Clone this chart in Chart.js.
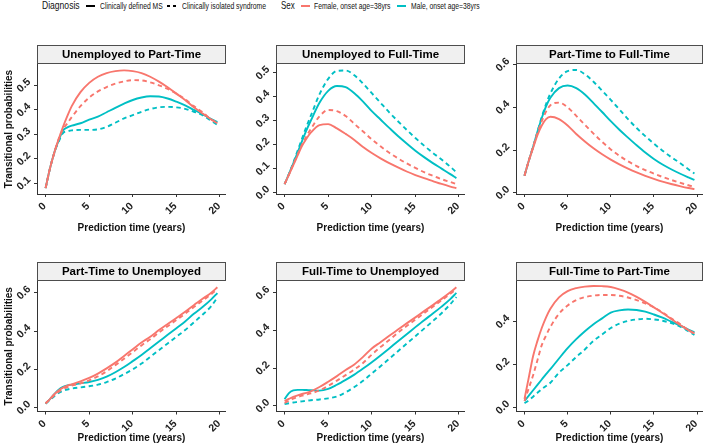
<!DOCTYPE html>
<html>
<head>
<meta charset="utf-8">
<script src="https://cdn.jsdelivr.net/npm/chart.js@4/dist/chart.umd.min.js"></script>
<style>
  html, body { margin:0; padding:0; background:#fff; }
  body { width:709px; height:447px; position:relative; overflow:hidden; font-family:"Liberation Sans", Arial, sans-serif; }
  canvas { position:absolute; }
  .lg { position:absolute; top:0; white-space:nowrap; color:#111; line-height:12px; transform-origin:0 0; }
  .key { position:absolute; height:0; }
</style>
</head>
<body>
<div id="legend"></div>
<canvas id="c1" width="232" height="196" style="left:0;top:40px"></canvas>
<canvas id="c2" width="235" height="196" style="left:236px;top:40px"></canvas>
<canvas id="c3" width="233" height="196" style="left:476px;top:40px"></canvas>
<canvas id="c4" width="232" height="190" style="left:0;top:257px"></canvas>
<canvas id="c5" width="235" height="190" style="left:236px;top:257px"></canvas>
<canvas id="c6" width="233" height="190" style="left:476px;top:257px"></canvas>
<script>
// ---------------- data ----------------
const times = [0,0.5,1,1.5,2,2.5,3,4,5,6,7,8,9,10,11,12,13,14,15,16,17,18,19,19.7];
const xTicks = [0,5,10,15,20];

const panelTitles = ['Unemployed to Part-Time','Unemployed to Full-Time','Part-Time to Full-Time',
                     'Part-Time to Unemployed','Full-Time to Unemployed','Full-Time to Part-Time'];

// Unemployed to Part-Time
const u2pFemaleCDMS = [0.08,0.16,0.225,0.28,0.33,0.375,0.415,0.472,0.51,0.535,0.55,0.558,0.561,0.558,0.55,0.535,0.515,0.492,0.466,0.44,0.41,0.385,0.36,0.345];
const u2pFemaleCIS  = [0.08,0.16,0.225,0.28,0.32,0.345,0.37,0.415,0.45,0.475,0.493,0.507,0.516,0.521,0.52,0.512,0.5,0.485,0.466,0.443,0.415,0.39,0.36,0.345];
const u2pMaleCDMS   = [0.08,0.16,0.225,0.275,0.315,0.328,0.335,0.345,0.36,0.372,0.39,0.408,0.425,0.44,0.45,0.455,0.454,0.446,0.433,0.418,0.4,0.382,0.362,0.35];
const u2pMaleCIS    = [0.08,0.16,0.225,0.27,0.305,0.312,0.316,0.318,0.318,0.32,0.33,0.347,0.365,0.378,0.392,0.403,0.41,0.412,0.41,0.404,0.392,0.378,0.355,0.338];

// Unemployed to Full-Time
const u2fFemaleCDMS = [0.035,0.075,0.115,0.155,0.195,0.225,0.25,0.282,0.286,0.268,0.245,0.22,0.19,0.165,0.143,0.123,0.105,0.088,0.073,0.06,0.048,0.036,0.025,0.018];
const u2fFemaleCIS  = [0.035,0.075,0.118,0.16,0.2,0.235,0.265,0.318,0.345,0.34,0.32,0.287,0.255,0.222,0.193,0.166,0.143,0.122,0.103,0.085,0.07,0.056,0.044,0.035];
const u2fMaleCDMS   = [0.035,0.078,0.122,0.168,0.215,0.26,0.3,0.375,0.425,0.445,0.44,0.415,0.38,0.34,0.305,0.27,0.236,0.205,0.175,0.148,0.123,0.1,0.077,0.06];
const u2fMaleCIS    = [0.035,0.078,0.125,0.175,0.225,0.275,0.32,0.41,0.475,0.508,0.51,0.49,0.455,0.415,0.375,0.335,0.298,0.262,0.228,0.196,0.166,0.138,0.108,0.085];

// Part-Time to Full-Time
const p2fFemaleCDMS = [0.08,0.15,0.21,0.27,0.315,0.345,0.356,0.345,0.315,0.275,0.24,0.208,0.18,0.155,0.133,0.113,0.095,0.079,0.065,0.052,0.041,0.031,0.022,0.017];
const p2fFemaleCIS  = [0.08,0.15,0.215,0.28,0.335,0.38,0.41,0.422,0.4,0.36,0.318,0.277,0.238,0.203,0.173,0.147,0.125,0.106,0.089,0.074,0.06,0.047,0.035,0.028];
const p2fMaleCDMS   = [0.08,0.15,0.215,0.285,0.35,0.405,0.445,0.49,0.502,0.49,0.46,0.42,0.378,0.335,0.295,0.258,0.222,0.188,0.158,0.132,0.11,0.09,0.072,0.06];
const p2fMaleCIS    = [0.08,0.15,0.215,0.285,0.355,0.415,0.465,0.535,0.57,0.575,0.555,0.52,0.478,0.435,0.39,0.345,0.303,0.265,0.23,0.197,0.167,0.14,0.11,0.09];

// Part-Time to Unemployed
const p2uFemaleCDMS = [0.022,0.045,0.07,0.09,0.105,0.115,0.122,0.137,0.155,0.178,0.205,0.235,0.27,0.305,0.34,0.37,0.405,0.437,0.468,0.5,0.535,0.568,0.6,0.628];
const p2uFemaleCIS  = [0.022,0.043,0.065,0.083,0.097,0.107,0.115,0.127,0.143,0.163,0.19,0.222,0.255,0.29,0.325,0.357,0.392,0.425,0.458,0.49,0.525,0.558,0.592,0.618];
const p2uMaleCDMS   = [0.022,0.045,0.07,0.093,0.108,0.116,0.12,0.127,0.134,0.145,0.162,0.185,0.212,0.243,0.275,0.31,0.345,0.38,0.415,0.45,0.49,0.525,0.565,0.598];
const p2uMaleCIS    = [0.02,0.04,0.06,0.077,0.088,0.095,0.1,0.106,0.112,0.12,0.133,0.152,0.175,0.2,0.23,0.265,0.3,0.335,0.37,0.405,0.445,0.485,0.53,0.575];

// Full-Time to Unemployed
const f2uFemaleCDMS = [0.025,0.037,0.048,0.056,0.063,0.069,0.077,0.1,0.128,0.158,0.19,0.22,0.26,0.305,0.338,0.372,0.405,0.438,0.47,0.503,0.535,0.568,0.603,0.63];
const f2uFemaleCIS  = [0.015,0.027,0.038,0.047,0.054,0.06,0.066,0.082,0.106,0.134,0.163,0.193,0.228,0.272,0.312,0.35,0.388,0.424,0.458,0.492,0.526,0.56,0.595,0.62];
const f2uMaleCDMS   = [0.035,0.068,0.082,0.085,0.085,0.084,0.083,0.081,0.09,0.112,0.138,0.166,0.198,0.232,0.268,0.305,0.343,0.38,0.418,0.455,0.49,0.527,0.567,0.6];
const f2uMaleCIS    = [0.01,0.014,0.018,0.021,0.024,0.027,0.03,0.034,0.04,0.05,0.072,0.1,0.133,0.172,0.21,0.25,0.29,0.33,0.37,0.41,0.45,0.492,0.54,0.578];

// Full-Time to Part-Time
const f2pFemaleCDMS = [0.04,0.14,0.24,0.31,0.37,0.42,0.46,0.513,0.542,0.556,0.563,0.566,0.565,0.561,0.55,0.535,0.515,0.492,0.466,0.44,0.412,0.385,0.36,0.345];
const f2pFemaleCIS  = [0.03,0.09,0.15,0.22,0.29,0.335,0.375,0.436,0.475,0.5,0.514,0.521,0.524,0.524,0.52,0.512,0.5,0.485,0.466,0.443,0.415,0.39,0.36,0.345];
const f2pMaleCDMS   = [0.03,0.055,0.08,0.105,0.13,0.155,0.178,0.228,0.276,0.318,0.355,0.388,0.415,0.442,0.452,0.456,0.454,0.446,0.433,0.418,0.4,0.382,0.362,0.35];
const f2pMaleCIS    = [0.02,0.033,0.05,0.068,0.085,0.1,0.115,0.162,0.197,0.235,0.27,0.31,0.34,0.37,0.39,0.403,0.41,0.413,0.41,0.404,0.393,0.378,0.355,0.338];

// y tick labels per panel
const yTicksP1 = [0.1,0.2,0.3,0.4,0.5];
const yTicksP2 = [0.0,0.1,0.2,0.3,0.4,0.5];
const yTicksP3 = [0.0,0.2,0.4,0.6];
const yTicksP4 = [0.0,0.2,0.4,0.6];
const yTicksP5 = [0.0,0.2,0.4,0.6];
const yTicksP6 = [0.0,0.2,0.4];

// ---------------- styles ----------------
const RED = '#F8766D', CYAN = '#00BFC4';
const FONT = '"Liberation Sans", Arial, sans-serif';

const panels = [
  {id:'c1', title:panelTitles[0], s:[u2pFemaleCDMS,u2pFemaleCIS,u2pMaleCDMS,u2pMaleCIS], yt:yTicksP1, ymin:0.056, ymax:0.587, yw:37, pr:3, xh:42, ytitle:true, tpb:2},
  {id:'c2', title:panelTitles[1], s:[u2fFemaleCDMS,u2fFemaleCIS,u2fMaleCDMS,u2fMaleCIS], yt:yTicksP2, ymin:-0.006, ymax:0.537, yw:40, pr:3, xh:42, ytitle:false, tpb:2},
  {id:'c3', title:panelTitles[2], s:[p2fFemaleCDMS,p2fFemaleCIS,p2fMaleCDMS,p2fMaleCIS], yt:yTicksP3, ymin:-0.006, ymax:0.603, yw:40, pr:2, xh:42, ytitle:false, tpb:2},
  {id:'c4', title:panelTitles[3], s:[p2uFemaleCDMS,p2uFemaleCIS,p2uMaleCDMS,p2uMaleCIS], yt:yTicksP4, ymin:-0.02, ymax:0.661, yw:37, pr:3, xh:35.5, ytitle:true, tpb:3},
  {id:'c5', title:panelTitles[4], s:[f2uFemaleCDMS,f2uFemaleCIS,f2uMaleCDMS,f2uMaleCIS], yt:yTicksP5, ymin:-0.03, ymax:0.663, yw:40, pr:3, xh:35.5, ytitle:false, tpb:3},
  {id:'c6', title:panelTitles[5], s:[f2pFemaleCDMS,f2pFemaleCIS,f2pMaleCDMS,f2pMaleCIS], yt:yTicksP6, ymin:-0.019, ymax:0.589, yw:40, pr:2, xh:35.5, ytitle:false, tpb:3}
];

const seriesStyle = [
  {color:RED, dash:[]}, {color:RED, dash:[4.5,3.5]},
  {color:CYAN, dash:[]}, {color:CYAN, dash:[4.5,3.5]}
];

const stripPlugin = {
  id:'strip',
  afterDraw(chart, args, opts) {
    const {ctx, chartArea:a} = chart;
    const h = 19;
    ctx.save();
    ctx.fillStyle = '#F0F0F0';
    ctx.strokeStyle = '#4D4D4D';
    ctx.lineWidth = 1;
    ctx.fillRect(a.left, a.top - h, a.right - a.left, h);
    ctx.strokeRect(Math.round(a.left)+0.5, Math.round(a.top - h)+0.5, Math.round(a.right - a.left)-1, h-1);
    ctx.fillStyle = '#000';
    ctx.font = 'bold 11.5px ' + FONT;
    ctx.textAlign = 'center';
    ctx.textBaseline = 'middle';
    ctx.fillText(opts.text, (a.left + a.right) / 2, a.top - h / 2 + 0.5);
    ctx.restore();
  }
};

panels.forEach(p => {
  const datasets = p.s.map((vals, i) => ({
    data: times.map((t, k) => ({x:t, y:vals[k]})),
    borderColor: seriesStyle[i].color,
    borderDash: seriesStyle[i].dash,
    borderWidth: 1.9,
    pointRadius: 0,
    fill: false,
    cubicInterpolationMode: 'monotone'
  }));
  new Chart(document.getElementById(p.id), {
    type:'line',
    data:{datasets},
    plugins:[stripPlugin],
    options:{
      responsive:false, animation:false, devicePixelRatio:1,
      layout:{padding:{top:24, right:p.pr, left:0, bottom:0}},
      plugins:{legend:{display:false}, tooltip:{enabled:false}, strip:{text:p.title}},
      scales:{
        x:{
          type:'linear', min:-0.985, max:20.685,
          afterBuildTicks: s => { s.ticks = xTicks.map(v => ({value:v})); },
          afterFit: s => { s.height = p.xh; },
          border:{display:true, color:'#333', width:1},
          grid:{drawOnChartArea:false, drawTicks:true, tickLength:3, color:'#333'},
          ticks:{autoSkip:false, minRotation:45, maxRotation:45, padding:3, labelOffset:-1,
                 color:'#222', font:{family:FONT, size:10.5, weight:'bold'},
                 callback: v => String(v)},
          title:{display:true, text:'Prediction time (years)', color:'#111',
                 font:{family:FONT, size:10, weight:'bold'}, padding:{top:0, bottom:p.tpb}}
        },
        y:{
          type:'linear', min:p.ymin, max:p.ymax,
          afterBuildTicks: s => { s.ticks = p.yt.map(v => ({value:v})); },
          afterFit: s => { s.width = p.yw; },
          border:{display:true, color:'#333', width:1},
          grid:{drawOnChartArea:false, drawTicks:true, tickLength:3, color:'#333'},
          ticks:{autoSkip:false, minRotation:45, maxRotation:45, padding:5, labelOffset:-5,
                 color:'#222', font:{family:FONT, size:10.5, weight:'bold'},
                 callback: v => Number(v).toFixed(1)},
          title:{display:p.ytitle, text:'Transitional probabilities', color:'#111',
                 font:{family:FONT, size:10, weight:'bold'}, padding:{top:3, bottom:0}}
        }
      }
    }
  });
});

// ---------------- legend (HTML) ----------------
const legendItems = [
  {text:'Diagnosis', left:41.7, width:37.6, size:11},
  {text:'Clinically defined MS', left:100, width:62.7, size:9},
  {text:'Clinically isolated syndrome', left:181.7, width:84, size:9},
  {text:'Sex', left:281, width:13.7, size:11},
  {text:'Female, onset age=38yrs', left:314.3, width:76.4, size:9},
  {text:'Male, onset age=38yrs', left:410.7, width:68.6, size:9}
];
const legendKeys = [
  {left:86, width:9, color:'#000'},
  {left:166.7, width:3.2, color:'#000'},
  {left:172.5, width:3.2, color:'#000'},
  {left:301, width:9, color:RED},
  {left:396.7, width:9, color:CYAN}
];
const lg = document.getElementById('legend');
legendItems.forEach(it => {
  const d = document.createElement('div');
  d.className = 'lg';
  d.textContent = it.text;
  d.style.left = it.left + 'px';
  d.style.fontSize = it.size + 'px';
  d.style.top = (it.size > 10 ? -1 : 0) + 'px';
  lg.appendChild(d);
  const w = d.getBoundingClientRect().width;
  d.style.transform = 'scaleX(' + (it.width / w) + ')';
});
legendKeys.forEach(k => {
  const d = document.createElement('div');
  d.className = 'key';
  d.style.left = k.left + 'px';
  d.style.top = '5px';
  d.style.width = k.width + 'px';
  d.style.borderTop = '2px solid ' + k.color;
  lg.appendChild(d);
});
</script>
</body>
</html>
